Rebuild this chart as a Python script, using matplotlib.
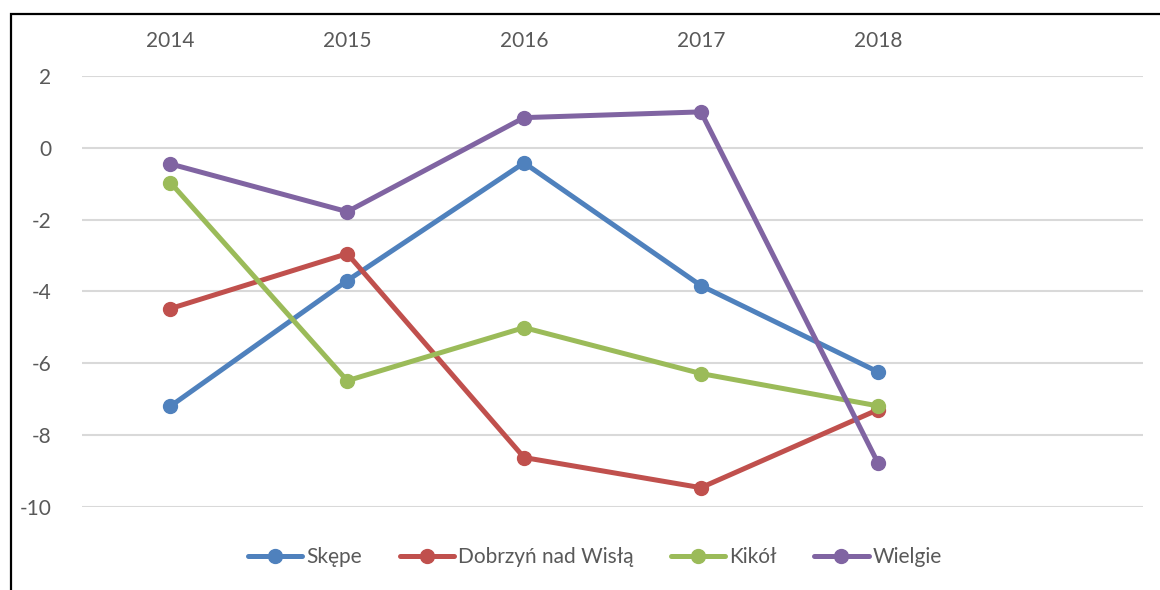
import matplotlib.pyplot as plt
import numpy as np

# values
years = ['2014', '2015', '2016', '2017', '2018']
skepe = [-7.2, -3.7, -0.42, -3.84, -6.24]
dobrzyn = [-4.48, -2.95, -8.63, -9.47, -7.3]
kikol = [-0.97, -6.49, -5.01, -6.29, -7.19]
wielgie = [-0.45, -1.78, 0.84, 1.0, -8.77]
names = ['Skępe', 'Dobrzyń nad Wisłą', 'Kikół', 'Wielgie']
colors = ['#4F81BD', '#C0504D', '#9BBB59', '#8064A2']

plt.rcParams['font.family'] = ['Lato', 'DejaVu Sans']
txt = '#595959'

fig = plt.figure(figsize=(11.6, 5.9), dpi=100)
ax = fig.add_axes([82/1160, 1 - 506.7/590, (1143 - 82)/1160, (506.7 - 76)/590])

x = np.arange(len(years))
for vals, name, c in zip([skepe, dobrzyn, kikol, wielgie], names, colors):
    ax.plot(x, vals, color=c, lw=3.6, marker='o', ms=10, label=name,
            solid_capstyle='round')

ax.set_xlim(-0.5, 5.5)
ax.set_ylim(-10, 2)
ax.set_yticks(np.arange(-10, 3, 2))
ax.set_yticklabels([str(v) for v in range(-10, 3, 2)])
ax.yaxis.grid(True, color='#D9D9D9', lw=1.5)
ax.set_axisbelow(True)
ax.set_xticks(x)
ax.set_xticklabels(years)
ax.xaxis.tick_top()
ax.tick_params(axis='x', length=0, pad=18, labelsize=15, labelcolor=txt)
ax.tick_params(axis='y', length=0, pad=22, labelsize=15, labelcolor=txt)
for lbl in ax.get_yticklabels():
    lbl.set_horizontalalignment('right')
for s in ax.spines.values():
    s.set_visible(False)

leg = fig.legend(loc='center', bbox_to_anchor=(595/1160, 1 - 557/590), ncol=4,
                 frameon=False, fontsize=15, labelcolor=txt, handlelength=2.6,
                 handletextpad=0.2, columnspacing=1.8)

# outer chart border (extends past right/bottom edge)
fig.add_artist(plt.Rectangle((11/1160, -0.05), 1.2, 1 - 14/590 + 0.05,
                             transform=fig.transFigure, fill=False,
                             edgecolor='black', lw=1.6))

fig.savefig('out.png', dpi=100)
